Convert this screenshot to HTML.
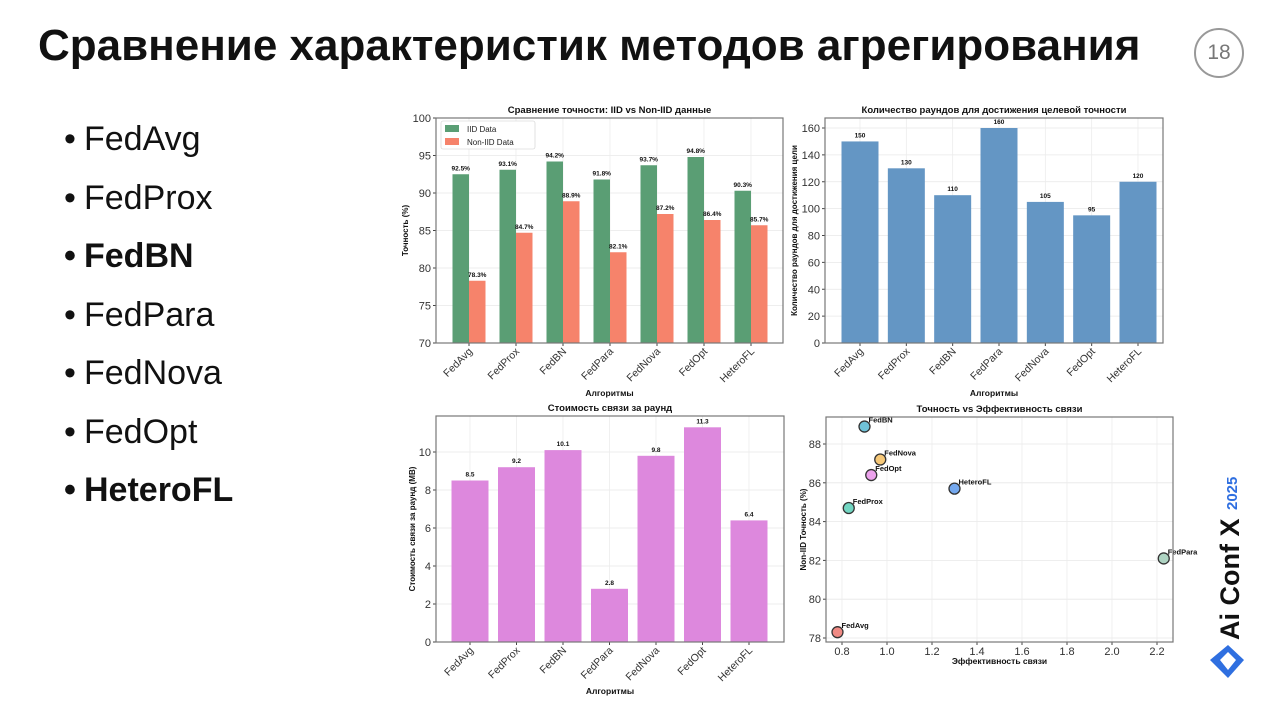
<!DOCTYPE html>
<html><head><meta charset="utf-8">
<style>
html,body{margin:0;padding:0;background:#fff;}
body{width:1265px;height:711px;position:relative;overflow:hidden;font-family:"Liberation Sans",sans-serif;}
#title{position:absolute;left:38px;top:21px;font-size:44px;font-weight:bold;color:#111;white-space:nowrap;letter-spacing:0px;}
#badge{position:absolute;left:1194px;top:28px;width:46px;height:46px;border:2px solid #999;border-radius:50%;text-align:center;line-height:46px;font-size:21px;color:#777;}
.bl{position:absolute;left:64px;font-size:34px;color:#111;white-space:nowrap;}
.bl span{display:inline-block;width:20px;}
.b{font-weight:bold;}
#logo{position:absolute;left:1200px;top:460px;}
svg text{font-family:"Liberation Sans","DejaVu Sans",sans-serif;}
</style></head><body>
<div id="title">Сравнение характеристик методов агрегирования</div>
<div id="badge">18</div>
<div class="bl" style="top:120px"><span>•</span>FedAvg</div>
<div class="bl" style="top:179px"><span>•</span>FedProx</div>
<div class="bl b" style="top:237px"><span>•</span>FedBN</div>
<div class="bl" style="top:296px"><span>•</span>FedPara</div>
<div class="bl" style="top:354px"><span>•</span>FedNova</div>
<div class="bl" style="top:413px"><span>•</span>FedOpt</div>
<div class="bl b" style="top:471px"><span>•</span>HeteroFL</div>
<svg id="logo" width="60" height="230">
<text transform="translate(39,180) rotate(-90)" font-size="27" font-weight="bold" fill="#111" style="font-family:'Liberation Sans',sans-serif">Ai Conf X</text>
<text transform="translate(37,50) rotate(-90)" font-size="15" font-weight="bold" fill="#2f6fe0" style="font-family:'Liberation Sans',sans-serif">2025</text>
<path d="M10,200 L28,185 L44,200 L28,218 Z" fill="#2f6fe0"/><path d="M20,200 L28,192 L36,200 L28,210 Z" fill="#fff"/>
</svg>
<svg id="charts" width="1265" height="711" style="position:absolute;left:0;top:0"></svg>
<script>
const algos=["FedAvg","FedProx","FedBN","FedPara","FedNova","FedOpt","HeteroFL"];
const iidAcc=[92.5,93.1,94.2,91.8,93.7,94.8,90.3];
const nonIidAcc=[78.3,84.7,88.9,82.1,87.2,86.4,85.7];
const rounds=[150,130,110,160,105,95,120];
const commCost=[8.5,9.2,10.1,2.8,9.8,11.3,6.4];
const efficiency=[0.78,0.83,0.90,2.23,0.97,0.93,1.30];
const accTicks=[70,75,80,85,90,95,100];
const roundTicks=[0,20,40,60,80,100,120,140,160];
const costTicks=[0,2,4,6,8,10];
const effTicks=[0.8,1.0,1.2,1.4,1.6,1.8,2.0,2.2];
const scatYTicks=[78,80,82,84,86,88];
const scatColors=["#f08a84","#72d6c2","#70c2d8","#aed3c2","#f6c878","#eca2ec","#74a8ee"];
const NS="http://www.w3.org/2000/svg";
const root=document.getElementById('charts');
function el(tag,attrs,parent,txt){const e=document.createElementNS(NS,tag);for(const k in attrs)e.setAttribute(k,attrs[k]);if(txt!==undefined)e.textContent=txt;(parent||root).appendChild(e);return e;}
function lin(d0,d1,r0,r1){return v=>r0+(v-d0)*(r1-r0)/(d1-d0);}
function frame(p,title,ylabel,xlabel,yTicks,ys,yfmt,name){
  const g=el('g',{});
  
  
  yTicks.forEach(t=>{const y=ys(t);
    const gl=el('line',{x1:p.l,x2:p.r,y1:y,y2:y,stroke:'#e8e8e8','stroke-width':0.8},g);
    
    el('line',{x1:p.l-3,x2:p.l,y1:y,y2:y,stroke:'#444'},g);
    const tl=el('text',{x:p.l-5,y:y+4,'font-size':11,'text-anchor':'end',fill:'#333'},g,yfmt(t));
    });
  const t=el('text',{x:(p.l+p.r)/2,y:p.t-5,'font-size':9.5,'font-weight':'bold','text-anchor':'middle',fill:'#111'},g,title);
  
  const yl=el('text',{transform:`translate(${p.yl},${(p.t+p.b)/2}) rotate(-90)`,'font-size':8,'font-weight':'bold','text-anchor':'middle',fill:'#111'},g,ylabel);
  
  const xl=el('text',{x:(p.l+p.r)/2,y:p.xl,'font-size':8.5,'font-weight':'bold','text-anchor':'middle',fill:'#111'},g,xlabel);
  
  return g;}
function box(p,g){el('rect',{x:p.l,y:p.t,width:p.r-p.l,height:p.b-p.t,fill:'none',stroke:'#777','stroke-width':1.2},g);}
function catLabels(p,xs,g){algos.forEach((a,i)=>{const x=xs(i);
  el('line',{x1:x,x2:x,y1:p.b,y2:p.b+3,stroke:'#444'},g);
  const lb=el('text',{transform:`translate(${x+4},${p.b+9}) rotate(-45)`,'font-size':10.5,'text-anchor':'end',fill:'#333'},g,a);
  });}
function vgrid(p,xs,n,g){for(let i=0;i<n;i++){const x=xs(i);el('line',{x1:x,x2:x,y1:p.t,y2:p.b,stroke:'#ececec','stroke-width':0.8},g);}}

// Chart 1
(function(){const p={l:436,r:783,t:118,b:343,yl:408,xl:396};
 const ys=lin(70,100,p.b,p.t);const xs=lin(0,6,469,751);
 const g=frame(p,'Сравнение точности: IID vs Non-IID данные','Точность (%)','Алгоритмы',accTicks,ys,v=>v,'accuracy-chart');
 vgrid(p,xs,7,g);const w=16.5;
 algos.forEach((a,i)=>{
  const y1=ys(iidAcc[i]);const r1=el('rect',{x:xs(i)-w,y:y1,width:w,height:p.b-y1,fill:'#5a9e74'},g);
  
  el('text',{x:xs(i)-w/2,y:y1-4,'font-size':6.5,'font-weight':'bold','text-anchor':'middle',fill:'#111'},g,iidAcc[i].toFixed(1)+'%');
  const y2=ys(nonIidAcc[i]);const r2=el('rect',{x:xs(i),y:y2,width:w,height:p.b-y2,fill:'#f6836b'},g);
  
  el('text',{x:xs(i)+w/2,y:y2-4,'font-size':6.5,'font-weight':'bold','text-anchor':'middle',fill:'#111'},g,nonIidAcc[i].toFixed(1)+'%');});
 catLabels(p,xs,g);box(p,g);
 const lg=el('g',{},g);
 el('rect',{x:441,y:121,width:94,height:28,fill:'#fff',stroke:'#ccc','stroke-width':0.6,rx:2},lg);
 el('rect',{x:445,y:125,width:14,height:7,fill:'#5a9e74'},lg);el('text',{x:467,y:132,'font-size':8,fill:'#222'},lg,'IID Data');
 el('rect',{x:445,y:138,width:14,height:7,fill:'#f6836b'},lg);el('text',{x:467,y:145,'font-size':8,fill:'#222'},lg,'Non-IID Data');
})();
// Chart 2
(function(){const p={l:825,r:1163,t:118,b:343,yl:797,xl:396};
 const ys=lin(0,160,p.b,128);const xs=lin(0,6,860,1138);
 const g=frame(p,'Количество раундов для достижения целевой точности','Количество раундов для достижения цели','Алгоритмы',roundTicks,ys,v=>v,'rounds-chart');
 vgrid(p,xs,7,g);const w=37;
 algos.forEach((a,i)=>{const y=ys(rounds[i]);
  const r=el('rect',{x:xs(i)-w/2,y:y,width:w,height:p.b-y,fill:'#6496c4'},g);
  
  el('text',{x:xs(i),y:y-4,'font-size':6.5,'font-weight':'bold','text-anchor':'middle',fill:'#111'},g,rounds[i]);});
 catLabels(p,xs,g);box(p,g);})();
// Chart 3
(function(){const p={l:436,r:784,t:416,b:642,yl:415,xl:694};
 const ys=lin(0,10,p.b,452);const xs=lin(0,6,470,749);
 const g=frame(p,'Стоимость связи за раунд','Стоимость связи за раунд (MB)','Алгоритмы',costTicks,ys,v=>v,'cost-chart');
 vgrid(p,xs,7,g);const w=37;
 algos.forEach((a,i)=>{const y=ys(commCost[i]);
  const r=el('rect',{x:xs(i)-w/2,y:y,width:w,height:p.b-y,fill:'#dd88dd'},g);
  
  el('text',{x:xs(i),y:y-4,'font-size':6.5,'font-weight':'bold','text-anchor':'middle',fill:'#111'},g,commCost[i].toFixed(1));});
 catLabels(p,xs,g);box(p,g);})();
// Chart 4
(function(){const p={l:826,r:1173,t:417,b:642,yl:806,xl:664};
 const ys=lin(78,88,638,444);const xs=lin(0.8,2.2,842,1157);
 const g=frame(p,'Точность vs Эффективность связи','Non-IID Точность (%)','Эффективность связи',scatYTicks,ys,v=>v,'scatter-chart');
 effTicks.forEach(t=>{const x=xs(t);el('line',{x1:x,x2:x,y1:p.t,y2:p.b,stroke:'#ececec','stroke-width':0.8},g);
  el('line',{x1:x,x2:x,y1:p.b,y2:p.b+3,stroke:'#444'},g);
  const tl=el('text',{x:x,y:p.b+13,'font-size':11,'text-anchor':'middle',fill:'#333'},g,t.toFixed(1));
  });
 algos.forEach((a,i)=>{const x=xs(efficiency[i]),y=ys(nonIidAcc[i]);
  const c=el('circle',{cx:x,cy:y,r:5.5,fill:scatColors[i],stroke:'#333','stroke-width':1.3},g);
  
  el('text',{x:x+4,y:y-4,'font-size':7.5,'font-weight':'bold',fill:'#111'},g,a);});
 box(p,g);})();
</script>
</body></html>
